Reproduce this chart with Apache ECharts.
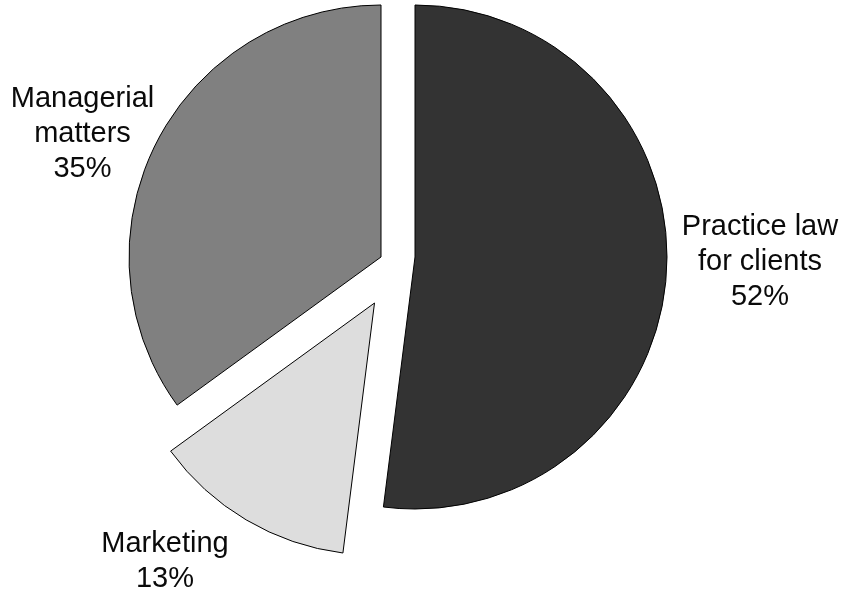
<!DOCTYPE html>
<html>
<head>
<meta charset="utf-8">
<script src="https://cdn.jsdelivr.net/npm/echarts@6/dist/echarts.min.js"></script>
<style>
  html, body { margin: 0; padding: 0; background: #ffffff; }
  #chart { width: 846px; height: 596px; }
</style>
</head>
<body>
<div id="chart"></div>
<script>
// How the working time is split (percent)
const categories = ['Practice law\nfor clients', 'Marketing', 'Managerial\nmatters'];
const shares = [52, 13, 35];
const sliceColors = ['#333333', '#dddddd', '#808080'];

// Each slice is pulled away from the middle by its own amount, so every
// slice gets its own pie series (same data, same angles) with only that
// slice painted.
const sliceCenters = [[415, 257], [374.5, 303], [381, 257]];
const labelAnchors = [[760, 262], [165, 561], [82.5, 134]];
const RADIUS = 252;

const chart = echarts.init(document.getElementById('chart'), null, { renderer: 'canvas' });

const series = categories.map(function (_, k) {
  return {
    type: 'pie',
    center: sliceCenters[k],
    radius: [0, RADIUS],
    startAngle: 90,
    clockwise: true,
    silent: true,
    animation: false,
    avoidLabelOverlap: false,
    emphasis: { disabled: true },
    labelLine: { show: false },
    label: {
      position: 'outside',
      color: '#0a0a0a',
      fontFamily: 'Liberation Sans, Arial, Helvetica, sans-serif',
      fontSize: 29,
      lineHeight: 35,
      align: 'center',
      formatter: function (p) { return p.name + '\n' + p.value + '%'; }
    },
    labelLayout: function (p) {
      const a = labelAnchors[p.dataIndex];
      return { x: a[0], y: a[1], align: 'center', verticalAlign: 'middle' };
    },
    data: categories.map(function (name, i) {
      const own = i === k;
      return {
        name: name,
        value: shares[i],
        itemStyle: own
          ? { color: sliceColors[i], borderColor: '#000000', borderWidth: 1 }
          : { color: 'rgba(0,0,0,0)', borderWidth: 0 },
        label: { show: own }
      };
    })
  };
});

chart.setOption({
  backgroundColor: '#ffffff',
  series: series
});
</script>
</body>
</html>
